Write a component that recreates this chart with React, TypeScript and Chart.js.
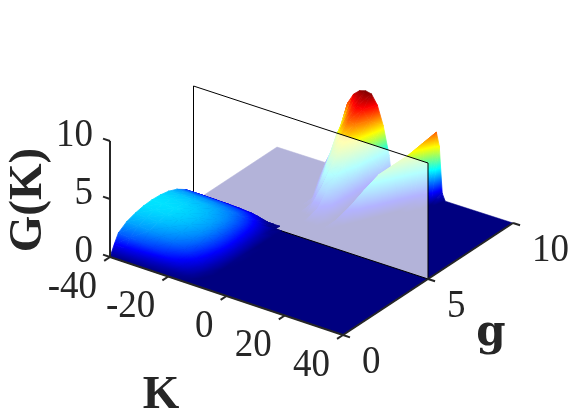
import { useEffect, useRef } from "react";
import { Chart, registerables } from "chart.js";

Chart.register(...registerables);

// Surface G(K, g): right-hand part (behind the plane), rows by g
const PEAK_K = [-24,-22,-20,-18,-16,-14,-12,-10,-8,-6,-4,-2,-1,0,2,4,6,8,10,12,14,15,16,17,18,20];
const PEAK_G = [10, 9.5, 9, 8.5, 8, 7.5, 7, 6.5, 6];
const PEAK_AT_10 = [0,0,2,3.8,5.8,6.7,7.15,7.3,7.2,6.4,4.8,2.4,0.3,0,0.2,1.5,2.6,3.4,4.2,5,5.7,4.6,0.6,0,0,0];
const PEAK_AT_9_5 = [0,0,0,1.9,3.9,5.3,6.1,6.5,6.3,5.5,4.1,1.6,0,0,0.1,1.2,2.2,3,3.9,5,1.2,0,0,0,0,0];
const PEAK_AT_9 = [0,0,0,0,2.5,4.2,5.2,5.7,5.5,4.8,3.4,0.4,0,0,0.1,0.9,1.8,2.8,4.3,0.4,0,0,0,0,0,0];
const PEAK_AT_8_5 = [0,0,0,0,0,2.6,4.1,4.8,4.8,4,2.6,0,0,0,0.1,0.7,1.8,3.8,0,0,0,0,0,0,0,0];
const PEAK_AT_8 = [0,0,0,0,0,0,2.6,3.8,4,3.2,1.9,0,0,0,0.1,1,3.3,0,0,0,0,0,0,0,0,0];
const PEAK_AT_7_5 = [0,0,0,0,0,0,0.6,2.5,3,2.6,1.5,0,0,0,0.8,2.3,0,0,0,0,0,0,0,0,0,0];
const PEAK_AT_7 = [0,0,0,0,0,0,0,0.7,1.9,1.9,1.2,0,0,0.4,1.2,0,0,0,0,0,0,0,0,0,0,0];
const PEAK_AT_6_5 = [0,0,0,0,0,0,0,0,0,0.9,0.5,0,0,0.3,0,0,0,0,0,0,0,0,0,0,0,0];
const PEAK_AT_6 = [0,0,0,0,0,0,0,0,0,0,0,0,0,0,0,0,0,0,0,0,0,0,0,0,0,0];

// Surface G(K, g): left-hand hill (in front of the plane), rows by g
const HILL_K = [-40,-36,-32,-28,-24,-20,-18,-16,-14,-12,-10,-8];
const HILL_G = [5.25, 5, 4.5, 4, 3.5, 3, 2.5, 2, 1.5, 1, 0.5, 0.25, 0];
const HILL_AT_5_25 = [0,0,0,0,0,0,0,0,0,0,0,0];
const HILL_AT_5 = [0.85,0.84,0.82,0.8,0.76,0.68,0.58,0.35,0.05,0,0,0];
const HILL_AT_4_5 = [1.55,1.53,1.5,1.47,1.4,1.28,1.1,0.85,0.55,0.15,0,0];
const HILL_AT_4 = [2.05,2.03,2,1.95,1.85,1.68,1.48,1.2,0.8,0.35,0,0];
const HILL_AT_3_5 = [2.35,2.33,2.3,2.24,2.12,1.9,1.7,1.4,0.95,0.45,0,0];
const HILL_AT_3 = [2.5,2.48,2.44,2.37,2.24,2.02,1.8,1.48,1.05,0.52,0.05,0];
const HILL_AT_2_5 = [2.55,2.53,2.5,2.42,2.28,2.05,1.82,1.5,1.08,0.55,0.08,0];
const HILL_AT_2 = [2.5,2.48,2.44,2.37,2.22,1.98,1.75,1.42,1,0.5,0.05,0];
const HILL_AT_1_5 = [2.35,2.32,2.28,2.2,2.05,1.8,1.55,1.2,0.8,0.35,0,0];
const HILL_AT_1 = [2.1,2.05,2,1.9,1.75,1.45,1.2,0.9,0.55,0.15,0,0];
const HILL_AT_0_5 = [1.6,1.55,1.45,1.3,1.1,0.8,0.6,0.4,0.2,0,0,0];
const HILL_AT_0_25 = [0.85,0.8,0.7,0.55,0.4,0.25,0.18,0.12,0.05,0,0,0];
const HILL_AT_0 = [0,0,0,0,0,0,0,0,0,0,0,0];

// Axes
const K_TICKS = [-40, -20, 0, 20, 40];
const G_TICKS = [0, 5, 10];
const Z_TICKS = [0, 5, 10];
const K_RANGE = [-40, 40];
const G_RANGE = [0, 10];
const Z_RANGE = [0, 10];
const PLANE_G = 5;
const COLOR_MAX = 7.3;

const INK = "#262626";
const NUM_FONT = '37px "Liberation Serif"';
const TITLE_FONT = 'bold 47px "Liberation Serif"';
const G_LABEL_FONT = 'bold 42px "DejaVu Serif"';

// Projection from data space to the chart's linear x / y scales
function project(K: number, g: number, z: number) {
  const u = (K + 40) / 80;
  const v = g / 10;
  const x = (1 - v) * ((1 - u) * 110 + u * 343) + v * ((1 - u) * 277 + u * 513);
  const y = (1 - v) * ((1 - u) * 257 + u * 335) + v * ((1 - u) * 147 + u * 223);
  return { x, y: y - z * 11.6 };
}

function jet(z: number) {
  const t = Math.max(0, Math.min(1, z / COLOR_MAX));
  const c = (d: number) => Math.round(255 * Math.max(0, Math.min(1, 1.5 - Math.abs(4 * t - d))));
  return `rgb(${c(3)},${c(2)},${c(1)})`;
}

type P3 = [number, number, number];

function triangleDataset(ctx: CanvasRenderingContext2D, tri: P3[]) {
  const pts = tri.map(([K, g, z]) => ({ ...project(K, g, z), z }));
  const [p0, p1, p2] = pts;
  const d = (p1.x - p0.x) * (p2.y - p0.y) - (p2.x - p0.x) * (p1.y - p0.y);
  const a = ((p1.z - p0.z) * (p2.y - p0.y) - (p2.z - p0.z) * (p1.y - p0.y)) / d;
  const b = ((p1.x - p0.x) * (p2.z - p0.z) - (p2.x - p0.x) * (p1.z - p0.z)) / d;
  const n2 = a * a + b * b;
  const zs = pts.map((p) => p.z);
  const zMin = Math.min(...zs);
  const zMax = Math.max(...zs);
  let paint: any = jet((zMin + zMax) / 2);
  if (Math.abs(d) > 0.01 && n2 > 1e-9 && zMax > zMin) {
    const at = (z: number) => ({
      x: p0.x + (a * (z - p0.z)) / n2,
      y: p0.y + (b * (z - p0.z)) / n2,
    });
    const s = at(zMin);
    const e = at(zMax);
    const grad = ctx.createLinearGradient(s.x, s.y, e.x, e.y);
    grad.addColorStop(0, jet(zMin));
    for (const f of [0.125, 0.375, 0.625, 0.875]) {
      const z = f * COLOR_MAX;
      if (z > zMin && z < zMax) grad.addColorStop((z - zMin) / (zMax - zMin), jet(z));
    }
    grad.addColorStop(1, jet(zMax));
    paint = grad;
  }
  return {
    data: [p0, p1, p2, p0].map((p) => ({ x: p.x, y: p.y })),
    showLine: true,
    fill: "shape",
    backgroundColor: paint,
    borderColor: paint,
    borderWidth: 0.8,
    pointRadius: 0,
    tension: 0,
  };
}

// Back-to-front triangles; rows run from far (high g) to near (low g)
function surface(ctx: CanvasRenderingContext2D, Ks: number[], gs: number[], rows: number[][]) {
  const out: any[] = [];
  for (let r = 0; r < gs.length - 1; r++) {
    for (let c = 0; c < Ks.length - 1; c++) {
      const far0: P3 = [Ks[c], gs[r], rows[r][c]];
      const far1: P3 = [Ks[c + 1], gs[r], rows[r][c + 1]];
      const near0: P3 = [Ks[c], gs[r + 1], rows[r + 1][c]];
      const near1: P3 = [Ks[c + 1], gs[r + 1], rows[r + 1][c + 1]];
      for (const tri of [[far0, near0, far1], [far1, near0, near1]]) {
        if (tri.some((p) => p[2] > 0)) out.push(triangleDataset(ctx, tri));
      }
    }
  }
  return out;
}

function polyline(points: P3[], color: string, width: number, extra: any = {}) {
  return {
    data: points.map(([K, g, z]) => project(K, g, z)),
    showLine: true,
    fill: false,
    borderColor: color,
    borderWidth: width,
    pointRadius: 0,
    tension: 0,
    ...extra,
  };
}

const textPlugin = {
  id: "axisText",
  afterDatasetsDraw(chart: any) {
    const { ctx } = chart;
    const sx = chart.scales.x;
    const sy = chart.scales.y;
    ctx.save();
    ctx.fillStyle = INK;
    ctx.textBaseline = "middle";
    const put = (t: string, x: number, y: number, align: CanvasTextAlign, stretch = 1) => {
      ctx.save();
      ctx.translate(sx.getPixelForValue(x), sy.getPixelForValue(y));
      ctx.scale(1, stretch);
      ctx.textAlign = align;
      ctx.fillText(t, 0, 0);
      ctx.restore();
    };
    ctx.font = NUM_FONT;
    for (const z of Z_TICKS) {
      const p = project(K_RANGE[0], G_RANGE[0], z);
      put(String(z), p.x - 17, p.y - 6, "right", 1.1);
    }
    for (const k of K_TICKS) {
      const p = project(k, G_RANGE[0], 0);
      put(String(k), p.x - 13, p.y + 30, "right", 1.1);
    }
    for (const g of G_TICKS) {
      const p = project(K_RANGE[1], g, 0);
      put(String(g), p.x + 19, p.y + 27, "left", 1.1);
    }
    ctx.font = TITLE_FONT;
    put("K", 161, 396, "center");
    ctx.font = G_LABEL_FONT;
    put("g", 491, 334, "center");
    ctx.font = TITLE_FONT;
    ctx.translate(sx.getPixelForValue(29), sy.getPixelForValue(200));
    ctx.rotate(-Math.PI / 2);
    ctx.textAlign = "center";
    ctx.fillText("G(K)", 0, 0);
    ctx.restore();
  },
};

export default function App() {
  const ref = useRef<HTMLCanvasElement>(null);
  useEffect(() => {
    const canvas = ref.current!;
    const ctx = canvas.getContext("2d")!;
    const [k0, k1] = K_RANGE;
    const [g0, g1] = G_RANGE;
    const [, z1] = Z_RANGE;

    const floor = {
      data: ([[k0, g0, 0], [k1, g0, 0], [k1, g1, 0], [k0, g1, 0], [k0, g0, 0]] as P3[]).map(([a, b, c]) => project(a, b, c)),
      showLine: true, fill: "shape", backgroundColor: jet(0), borderColor: jet(0), borderWidth: 0.5, pointRadius: 0, tension: 0,
    };
    const plane = {
      data: ([[k0, PLANE_G, 0], [k1, PLANE_G, 0], [k1, PLANE_G, z1], [k0, PLANE_G, z1], [k0, PLANE_G, 0]] as P3[]).map(([a, b, c]) => project(a, b, c)),
      showLine: true, fill: "shape", backgroundColor: "rgba(255,255,255,0.7)", borderColor: "#000000", borderWidth: 1, pointRadius: 0, tension: 0,
    };
    const peaks = surface(ctx, PEAK_K, PEAK_G, [PEAK_AT_10, PEAK_AT_9_5, PEAK_AT_9, PEAK_AT_8_5, PEAK_AT_8, PEAK_AT_7_5, PEAK_AT_7, PEAK_AT_6_5, PEAK_AT_6]);
    const hill = surface(ctx, HILL_K, HILL_G, [HILL_AT_5_25, HILL_AT_5, HILL_AT_4_5, HILL_AT_4, HILL_AT_3_5, HILL_AT_3, HILL_AT_2_5, HILL_AT_2, HILL_AT_1_5, HILL_AT_1, HILL_AT_0_5, HILL_AT_0_25, HILL_AT_0]);
    const axes = [
      polyline([[k0, g0, 0], [k1, g0, 0]], INK, 2),
      polyline([[k1, g0, 0], [k1, g1, 0]], INK, 2),
      polyline([[k0, g0, 0], [k0, g0, z1]], INK, 2),
      ...K_TICKS.map((k) => polyline([[k, g0, 0], [k, g0 - 0.35, 0]], INK, 2)),
      ...G_TICKS.map((g) => polyline([[k1, g, 0], [k1 + 2.4, g, 0]], INK, 2)),
      ...Z_TICKS.map((z) => polyline([[k0, g0, z], [k0 - 2.4, g0, z]], INK, 2)),
    ];

    const layered = [floor, ...peaks, plane, ...hill, ...axes];
    layered.forEach((d: any, i: number) => (d.order = layered.length - i));

    const chart = new Chart(canvas, {
      type: "scatter",
      data: { datasets: layered as any },
      options: {
        animation: false,
        responsive: false,
        events: [],
        layout: { padding: 0 },
        plugins: { legend: { display: false }, tooltip: { enabled: false } },
        scales: {
          x: { type: "linear", min: 0, max: 570, display: false },
          y: { type: "linear", min: 0, max: 420, reverse: true, display: false },
        },
      } as any,
      plugins: [textPlugin],
    });
    return () => chart.destroy();
  }, []);
  return (
    <div style={{ position: "fixed", left: 0, top: 0, width: 570, height: 420, background: "#fff" }}>
      <canvas ref={ref} width={570} height={420} style={{ display: "block" }} />
    </div>
  );
}
